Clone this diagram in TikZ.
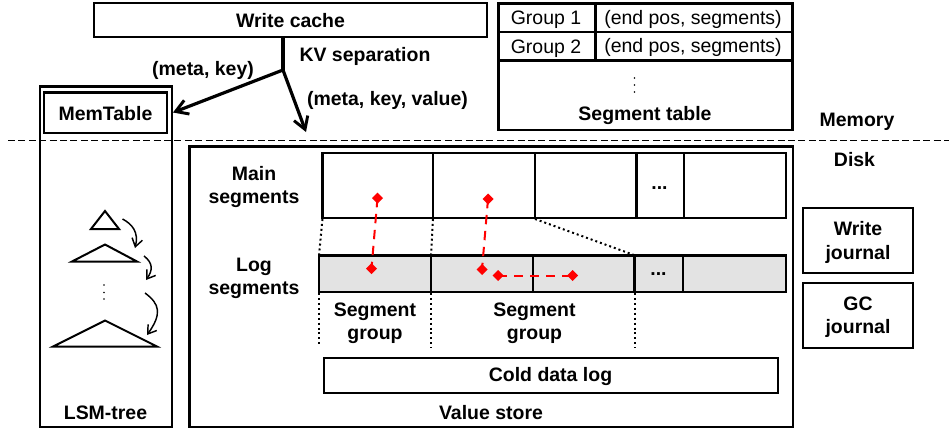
\documentclass[tikz,border=0pt]{standalone}
\usepackage{fontspec}
\setmainfont{Liberation Sans}
\usetikzlibrary{arrows.meta,calc}
\tikzset{
  x=0.75pt,y=-0.75pt,
  box/.style={draw=black,line width=1.6pt,fill=none},
  lab/.style={font=\fontsize{14.6}{16.5}\selectfont\bfseries,align=center,inner sep=0pt,text=black},
  reg/.style={font=\fontsize{14.6}{16.5}\selectfont,align=center,inner sep=0pt,text=black},
  flow/.style={line width=2.4pt,-{Straight Barb[length=9pt,width=11pt,line width=2.2pt]}},
  dots/.style={line width=1.5pt,dash pattern=on 1.5pt off 2.2pt},
  red link/.style={red,line width=1.5pt,dash pattern=on 7pt off 5pt},
  tree/.style={draw=black,line width=1.5pt,line join=miter,fill=none},
  merge/.style={line width=1.1pt,-{Straight Barb[length=6pt,width=8pt,line width=1.1pt]}},
}
\newcommand{\reddia}[2]{\fill[red] ($(#1)+(-5.5,0)$) -- ($(#1)+(0,-5.5)$) -- ($(#1)+(5.5,0)$) -- ($(#1)+(0,5.5)$) -- cycle;\coordinate (#2) at (#1);}
\begin{document}
\begin{tikzpicture}
\useasboundingbox (0,0) rectangle (949,429);
% write cache
\draw[box] (94,3) rectangle (487,37);
\node[lab] (wc) at (290.5,20.5) {Write cache};
\coordinate (wcb) at (283,37);
\coordinate (split) at (283,70);
\coordinate (memin) at (173,112.5);
\coordinate (storein) at (306,132);
\draw[line width=3.4pt] (wcb) -- (split);
\draw[flow] (split) -- (memin);
\draw[flow] (split) -- (storein);
\node[lab] (kv) at (365,56) {KV separation};
\node[lab] (mk) at (203,70.5) {(meta, key)};
\node[lab] (mkv) at (387.5,100) {(meta, key, value)};
% segment table
\draw[box] (498.5,3.5) rectangle (792.5,130);
\draw[box] (498.5,32) -- (792.5,32);
\draw[box] (498.5,60.5) -- (792.5,60.5);
\draw[box] (595.5,3.5) -- (595.5,60.5);
\node[reg] (g1) at (546,19.5) {Group 1};
\node[reg] (g2) at (546,48.5) {Group 2};
\node[reg] (e1) at (693,19.5) {(end pos, segments)};
\node[reg] (e2) at (693,47.5) {(end pos, segments)};
\foreach \y in {78,85,92} \fill (634.5,\y) circle (0.9);
\node[lab] (st) at (645,115.5) {Segment table};
\node[lab] (memory) at (857,122) {Memory};
\node[lab] (disk) at (854.5,159.5) {Disk};
% boundary
\draw[line width=1.3pt,dash pattern=on 5.2pt off 2.6pt] (8,140.5) -- (949,140.5);
% LSM
\draw[box] (40,86.5) rectangle (172,427);
\draw[box] (44,92.5) rectangle (167,133);
\node[lab] (mt) at (105.5,113.5) {MemTable};
\node[lab] (lsm) at (105.5,412.5) {LSM-tree};
\coordinate (t1a) at (105,211); \coordinate (t2a) at (105,244.5); \coordinate (t3a) at (105,320.5);
\draw[tree] (t1a) -- (119,229) -- (91,229) -- cycle;
\draw[tree] (t2a) -- (137,261.5) -- (72,261.5) -- cycle;
\draw[tree] (t3a) -- (157,346.5) -- (53,346.5) -- cycle;
\foreach \y in {285,292.5,299} \fill (104,\y) circle (0.9);
\coordinate (m1a) at (122.5,219); \coordinate (m1b) at (135,248);
\coordinate (m2a) at (144,256); \coordinate (m2b) at (146,280);
\coordinate (m3a) at (145,293); \coordinate (m3b) at (147,335);
\draw[merge] (m1a) .. controls (132,224) and (139,232) .. (m1b);
\draw[merge] (m2a) .. controls (153,263) and (153,270) .. (m2b);
\draw[merge] (m3a) .. controls (160,304) and (162,314) .. (m3b);
% value store
\draw[box] (189.5,146.5) rectangle (793,427);
\node[lab] (ms) at (254,187) {Main\\[1pt]segments};
\node[lab] (ls) at (254,278.5) {Log\\[1pt]segments};
\coordinate (ma) at (322.5,153); \coordinate (mb) at (786,218);
\draw[box] (ma) rectangle (mb);
\foreach \x in {433,535,636.5,684} \draw[box] (\x,153) -- (\x,218);
\node[lab] (md) at (659.5,188) {...};
\draw[box,fill=black!11] (319,255.5) rectangle (786,292);
\foreach \x in {431,533,634.5,683} \draw[box] (\x,255.5) -- (\x,292);
\node[lab] (ld) at (658.5,274) {...};
\draw[dots] (322.5,219) -- (319,255);
\draw[dots] (433,219) -- (431,255);
\draw[dots] (535,219) -- (634,255);
\draw[dots] (319,293) -- (319,347);
\draw[dots] (431,293) -- (431,348);
\draw[dots] (634.5,293) -- (634.5,348);
\node[lab] (sg1) at (375,323.5) {Segment\\[1pt]group};
\node[lab] (sg2) at (534.5,323.5) {Segment\\[1pt]group};
\draw[box] (324,358) rectangle (778,393);
\node[lab] (cd) at (550.5,376.5) {Cold data log};
\node[lab] (vs) at (491,413) {Value store};
% red
\reddia{377.5,198}{r1}
\reddia{371.5,268.5}{r2}
\reddia{488,199}{r3}
\reddia{482,269.5}{r4}
\reddia{498,275.5}{r5}
\reddia{572.5,275.5}{r6}
\draw[red link] (r1) -- (r2);
\draw[red link] (r3) -- (r4);
\draw[red link] (r5) -- (r6);
% journals
\draw[box] (803,208) rectangle (913,273);
\node[lab] (wj) at (858,242.5) {Write\\[1pt]journal};
\draw[box] (803,283) rectangle (913,348);
\node[lab] (gj) at (858,317.5) {GC\\[1pt]journal};
\end{tikzpicture}
\end{document}
